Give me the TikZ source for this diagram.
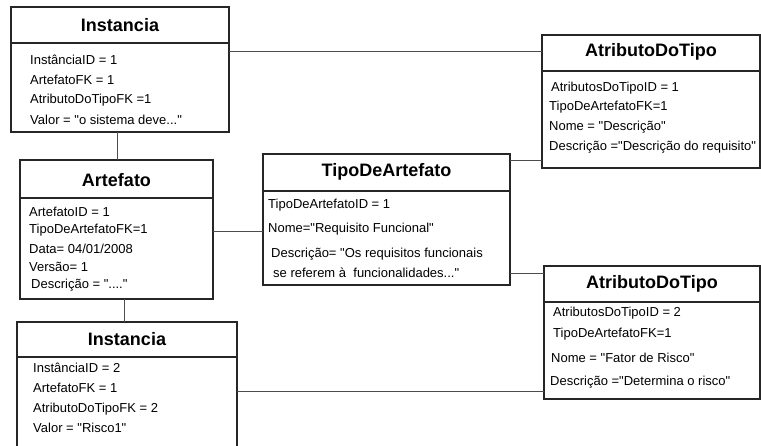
\documentclass[tikz,border=0pt]{standalone}
\usepackage{fontspec}
\newfontfamily\lib{Liberation Sans}
\begin{document}
\begin{tikzpicture}[x=1pt,y=-1pt,
  box/.style={draw=black!85, line width=1.3pt, inner sep=0pt, outer sep=0pt, anchor=north west},
  divider/.style={draw=black!85, line width=1.3pt},
  title/.style={font=\lib\fontsize{18}{20}\selectfont\bfseries, anchor=center, inner sep=0pt},
  row/.style={font=\lib\fontsize{13}{15}\selectfont, anchor=west, inner sep=0pt},
  link/.style={draw=black!70, line width=0.8pt}]
\useasboundingbox (0,0) rectangle (761,445);
\clip (0,0) rectangle (761,445);

% boxes
\node[box, minimum width=218pt, minimum height=125pt] (inst1) at (11,7) {};
\node[box, minimum width=193pt, minimum height=139pt] (art) at (20,160) {};
\node[box, minimum width=220pt, minimum height=140pt] (inst2) at (17,322) {};
\node[box, minimum width=247pt, minimum height=131pt] (tipo) at (263,154) {};
\node[box, minimum width=218pt, minimum height=133pt] (at1) at (542,35) {};
\node[box, minimum width=216pt, minimum height=133pt] (at2) at (544,266) {};

% connectors
\draw[link] (inst1.east |- 0,51) -- (at1.west |- 0,51);
\draw[link] (inst1.south -| 117,0) -- (art.north -| 117,0);
\draw[link] (art.east |- 0,231) -- (tipo.west |- 0,231);
\draw[link] (tipo.east |- 0,160) -- (at1.west |- 0,160);
\draw[link] (tipo.east |- 0,273) -- (at2.west |- 0,273);
\draw[link] (art.south -| 124,0) -- (inst2.north -| 124,0);
\draw[link] (inst2.east |- 0,391) -- (at2.west |- 0,391);

% header dividers
\draw[divider] (inst1.west |- 0,43) -- (inst1.east |- 0,43);
\draw[divider] (art.west |- 0,198) -- (art.east |- 0,198);
\draw[divider] (inst2.west |- 0,357) -- (inst2.east |- 0,357);
\draw[divider] (tipo.west |- 0,191) -- (tipo.east |- 0,191);
\draw[divider] (at1.west |- 0,71) -- (at1.east |- 0,71);
\draw[divider] (at2.west |- 0,302) -- (at2.east |- 0,302);

% Instancia 1
\node[title] (inst1t) at (120,25) {Instancia};
\node[row] (inst1a) at (30,60) {InstânciaID = 1};
\node[row] (inst1b) at (30,80) {ArtefatoFK = 1};
\node[row] (inst1c) at (30,100) {AtributoDoTipoFK =1};
\node[row] (inst1d) at (30,120) {Valor = "o sistema deve..."};

% Artefato
\node[title] (artt) at (116.5,180) {Artefato};
\node[row] (arta) at (29,212) {ArtefatoID = 1};
\node[row] (artb) at (29,230) {TipoDeArtefatoFK=1};
\node[row] (artc) at (29,249) {Data= 04/01/2008};
\node[row] (artd) at (29,267) {Versão= 1};
\node[row] (arte) at (31,285) {Descrição = "...."};

% Instancia 2
\node[title] (inst2t) at (127,339) {Instancia};
\node[row] (inst2a) at (33,368) {InstânciaID = 2};
\node[row] (inst2b) at (33,388) {ArtefatoFK = 1};
\node[row] (inst2c) at (33,409) {AtributoDoTipoFK = 2};
\node[row] (inst2d) at (33,428) {Valor = "Risco1"};

% TipoDeArtefato
\node[title] (tipot) at (386.5,172) {TipoDeArtefato};
\node[row] (tipoa) at (268,205) {TipoDeArtefatoID = 1};
\node[row] (tipob) at (268,229) {Nome="Requisito Funcional"};
\node[row] (tipoc) at (271,254) {Descrição= "Os requisitos funcionais};
\node[row] (tipod) at (273,273) {se referem à\ \ funcionalidades..."};

% AtributoDoTipo 1
\node[title] (at1t) at (651,52) {AtributoDoTipo};
\node[row] (at1a) at (551,88) {AtributosDoTipoID = 1};
\node[row] (at1b) at (549,107) {TipoDeArtefatoFK=1};
\node[row] (at1c) at (549,127) {Nome = "Descrição"};
\node[row] (at1d) at (549,147) {Descrição ="Descrição do requisito"};

% AtributoDoTipo 2
\node[title] (at2t) at (652,284) {AtributoDoTipo};
\node[row] (at2a) at (553,313) {AtributosDoTipoID = 2};
\node[row] (at2b) at (553,334) {TipoDeArtefatoFK=1};
\node[row] (at2c) at (551,358) {Nome = "Fator de Risco"};
\node[row] (at2d) at (550,382) {Descrição ="Determina o risco"};
\end{tikzpicture}
\end{document}
